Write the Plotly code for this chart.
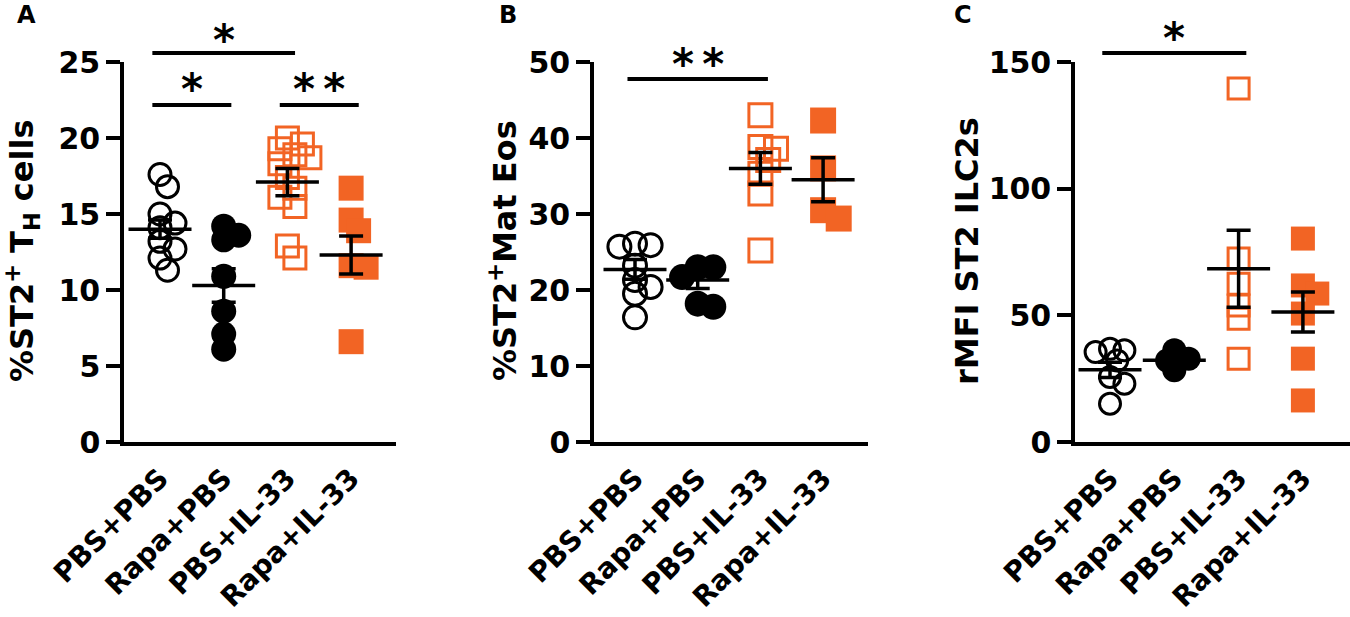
import plotly.graph_objects as go

# ---- data ----
groups = ["PBS+PBS", "Rapa+PBS", "PBS+IL-33", "Rapa+IL-33"]

# A: %ST2+ TH cells
a_points = [
    [17.6, 16.8, 15.0, 14.4, 14.1, 13.2, 12.7, 12.1, 11.3],
    [14.2, 13.6, 13.3, 10.9, 8.6, 7.1, 6.1],
    [20.0, 19.6, 19.3, 18.9, 18.7, 18.3, 17.4, 16.7, 16.1, 15.5, 12.9, 12.1],
    [16.7, 14.6, 13.9, 11.6, 11.5, 6.6],
]
a_mean = [14.0, 10.3, 17.1, 12.3]
a_sem = [0.6, 1.1, 0.9, 1.25]

# B: %ST2+ Mat Eos
b_points = [
    [26.1, 25.9, 25.7, 23.2, 21.3, 20.4, 19.5, 16.4],
    [23.0, 23.0, 21.7, 18.2, 17.8],
    [43.0, 38.8, 38.6, 37.1, 35.3, 32.7, 25.2],
    [42.3, 36.0, 30.5, 29.4],
]
b_mean = [22.7, 21.3, 36.0, 34.5]
b_sem = [1.3, 1.1, 2.1, 2.9]

# C: rMFI ST2 ILC2s
c_points = [
    [36.8, 36.2, 35.5, 32.2, 25.7, 23.0, 15.1],
    [36.2, 32.9, 32.2, 28.3],
    [139.5, 72.4, 62.5, 53.9, 48.7, 32.9],
    [80.3, 61.8, 58.6, 50.7, 32.9, 16.4],
]
c_mean = [28.5, 32.3, 68.4, 51.3]
c_sem = [3.0, 1.5, 15.2, 7.9]

# significance: (panel, from group, to group, stars)
sig = [
    (0, 0, 2, "*"),
    (0, 0, 1, "*"),
    (0, 2, 3, "*\u2009*"),
    (1, 0, 2, "*\u2009*"),
    (2, 0, 2, "*"),
]

# ---- layout in pixels of the 1350x617 page ----
W, H = 1350, 617
BLACK = "black"
ORANGE = "#f26424"
FONT = "DejaVu Sans"

panels = [
    dict(points=a_points, mean=a_mean, sem=a_sem, ymax=25, dtick=5,
         left=124, right=396, first=160, step=63.7, size=25, letter="A", lx=15,
         title="%ST2<sup>+</sup> T<sub>H</sub> cells", tx=22,
         bars=[53, 105, 105], star_up=[12, 16, 16]),
    dict(points=b_points, mean=b_mean, sem=b_sem, ymax=50, dtick=10,
         left=594, right=868, first=635, step=62.7, size=26, letter="B", lx=497,
         title="%ST2<sup>+</sup>Mat Eos", tx=503, bars=[79], star_up=[14]),
    dict(points=c_points, mean=c_mean, sem=c_sem, ymax=150, dtick=50,
         left=1075, right=1350, first=1110, step=64.3, size=24, letter="C", lx=952,
         title="rMFI ST2 ILC2s", tx=967, bars=[53], star_up=[14]),
]
Y0, Y1 = 442, 62  # pixel rows of the y-range bottom / top

styles = [
    dict(symbol="circle-open", color=BLACK, fill=False),
    dict(symbol="circle", color=BLACK, fill=True),
    dict(symbol="square-open", color=ORANGE, fill=False),
    dict(symbol="square", color=ORANGE, fill=True),
]


def swarm(vals, px_per_unit, diam, px_per_cat):
    """simple beeswarm: shift points sideways until they don't overlap too much"""
    placed, offs = [], []
    step = diam * 0.3
    for v in vals:
        y = v * px_per_unit
        k = 0
        pos = None
        while pos is None:
            cands = [0.0] if k == 0 else [k * step, -k * step]
            for c in cands:
                if all((c - px) ** 2 + (y - py) ** 2 >= (0.5 * diam) ** 2 for px, py in placed):
                    pos = c
                    break
            k += 1
        placed.append((pos, y))
        offs.append(pos / px_per_cat)
    return offs


fig = go.Figure()
annotations = []
shapes = []
tick_font = dict(family=FONT, size=30, color=BLACK, weight="bold")

for p_i, p in enumerate(panels):
    n = "" if p_i == 0 else str(p_i + 1)
    xa, ya = "x" + n, "y" + n
    px_per_unit = (Y0 - Y1) / p["ymax"]

    for g_i, vals in enumerate(p["points"]):
        st = styles[g_i]
        offs = swarm(vals, px_per_unit, p["size"], p["step"])
        fig.add_trace(go.Scatter(
            x=[g_i + o for o in offs], y=vals, mode="markers", xaxis=xa, yaxis=ya,
            cliponaxis=False, hoverinfo="skip",
            marker=dict(symbol=st["symbol"], color=st["color"],
                        size=p["size"] - (3 if not st["fill"] else 0),
                        line=dict(width=3 if not st["fill"] else 0, color=st["color"])),
        ))

    # mean +/- SEM
    fig.add_trace(go.Scatter(
        x=list(range(len(groups))), y=p["mean"], mode="markers", xaxis=xa, yaxis=ya,
        cliponaxis=False, hoverinfo="skip",
        marker=dict(symbol="line-ew", size=45, line=dict(width=3.5, color=BLACK)),
        error_y=dict(type="data", array=p["sem"], width=12, thickness=3.5, color=BLACK),
    ))

    x_lo = -(p["first"] - p["left"]) / p["step"]
    x_hi = 3 + (p["right"] - (p["first"] + 3 * p["step"])) / p["step"]
    fig.layout["xaxis" + n] = dict(
        domain=[p["left"] / W, p["right"] / W], range=[x_lo, x_hi], anchor=ya,
        tickvals=list(range(len(groups))), ticktext=groups, tickangle=-45,
        tickfont=dict(family=FONT, size=28, color=BLACK, weight="bold"),
        ticklabelstandoff=5,
        showline=True, linecolor=BLACK, linewidth=3.5, ticks="",
        showgrid=False, zeroline=False, automargin=False,
    )
    fig.layout["yaxis" + n] = dict(
        domain=[1 - Y0 / H, 1 - Y1 / H], range=[0, p["ymax"]], anchor=xa,
        tick0=0, dtick=p["dtick"], ticks="outside", ticklen=14, tickwidth=3.5,
        tickcolor=BLACK, tickfont=tick_font, showline=True, linecolor=BLACK,
        linewidth=3.5, showgrid=False, zeroline=False, automargin=False,
    )

    annotations.append(dict(
        text=p["title"], textangle=-90, x=p["tx"] / W, y=1 - 251 / H,
        xref="paper", yref="paper", xanchor="center", yanchor="middle",
        showarrow=False, font=dict(family=FONT, size=32, color=BLACK, weight="bold"),
    ))
    annotations.append(dict(
        text=p["letter"], x=p["lx"] / W, y=1 - 15 / H, xref="paper", yref="paper",
        xanchor="left", yanchor="middle", showarrow=False,
        font=dict(family=FONT, size=24, color=BLACK, weight="bold"),
    ))

# significance bars and stars
bar_count = {}
for panel_i, g_from, g_to, stars in sig:
    p = panels[panel_i]
    k = bar_count.get(panel_i, 0)
    bar_count[panel_i] = k + 1
    n = "" if panel_i == 0 else str(panel_i + 1)
    by = 1 - p["bars"][k] / H
    shapes.append(dict(type="line", xref="x" + n, yref="paper",
                       x0=g_from - 0.12, x1=g_to + 0.12, y0=by, y1=by,
                       line=dict(color=BLACK, width=4)))
    annotations.append(dict(
        text=stars, x=(g_from + g_to) / 2, y=by + p["star_up"][k] / H,
        xref="x" + n, yref="paper",
        xanchor="center", yanchor="middle", showarrow=False,
        font=dict(family=FONT, size=42, color=BLACK, weight="bold"),
    ))

fig.update_layout(
    width=W, height=H, margin=dict(l=0, r=0, t=0, b=0, autoexpand=False),
    paper_bgcolor="white", plot_bgcolor="white", showlegend=False,
    annotations=annotations, shapes=shapes,
)

# the page body has a default 8px margin; drop it so the figure fills the window
fig.write_html("out.html", config={"displayModeBar": False},
               post_script="document.body.style.margin='0';")
